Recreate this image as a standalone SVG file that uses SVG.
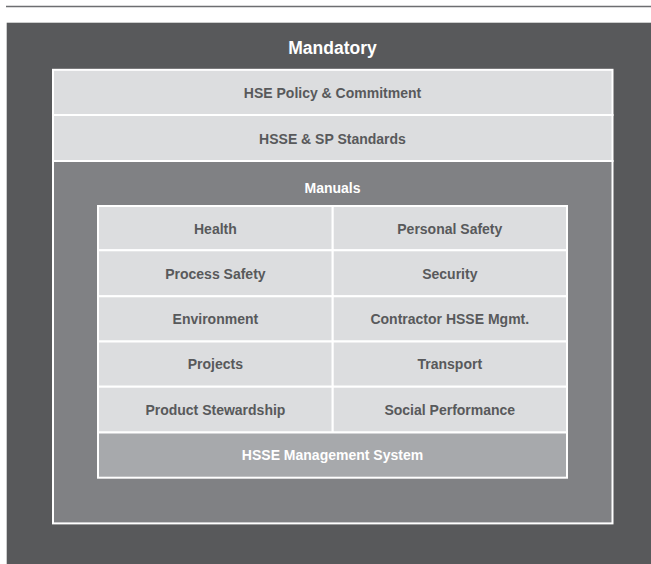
<svg xmlns="http://www.w3.org/2000/svg" width="651" height="564" viewBox="0 0 651 564">
<style>
  text { font-family: "Liberation Sans", Arial, sans-serif; font-weight: bold; text-anchor: middle; }
  .lbl { font-size: 14px; fill: #58595b; }
  .wlbl { font-size: 14px; fill: #ffffff; }
  .title { font-size: 17.5px; fill: #ffffff; }
  .cell { fill: #dcdddf; stroke: #ffffff; stroke-width: 2; }
</style>
<rect x="0" y="0" width="651" height="564" fill="#ffffff"/>
<line x1="6" y1="6.5" x2="651" y2="6.5" stroke="#6d6e71" stroke-width="1.6"/>
<g id="mandatory">
  <rect x="6.7" y="22.7" width="645" height="542" fill="#58595b"/>
  <text class="title" x="332.5" y="54">Mandatory</text>
</g>
<g id="hse-policy">
  <rect class="cell" x="53" y="69.8" width="559.5" height="45.2"/>
  <text class="lbl" x="332.5" y="98">HSE Policy &amp; Commitment</text>
</g>
<g id="hsse-sp-standards">
  <rect class="cell" x="53" y="115" width="559.5" height="46"/>
  <text class="lbl" x="332.5" y="144">HSSE &amp; SP Standards</text>
</g>
<g id="manuals">
  <rect x="53" y="161" width="559.5" height="362.4" fill="#808184" stroke="#ffffff" stroke-width="2"/>
  <text class="wlbl" x="332.5" y="193">Manuals</text>
</g>
<g id="health">
  <rect class="cell" x="98" y="206" width="234.7" height="44.3"/>
  <text class="lbl" x="215.4" y="233.5">Health</text>
</g>
<g id="personal-safety">
  <rect class="cell" x="332.7" y="206" width="234.3" height="44.3"/>
  <text class="lbl" x="449.8" y="233.5">Personal Safety</text>
</g>
<g id="process-safety">
  <rect class="cell" x="98" y="250.3" width="234.7" height="46"/>
  <text class="lbl" x="215.4" y="278.5">Process Safety</text>
</g>
<g id="security">
  <rect class="cell" x="332.7" y="250.3" width="234.3" height="46"/>
  <text class="lbl" x="449.8" y="278.5">Security</text>
</g>
<g id="environment">
  <rect class="cell" x="98" y="296.3" width="234.7" height="45.2"/>
  <text class="lbl" x="215.4" y="324">Environment</text>
</g>
<g id="contractor-hsse">
  <rect class="cell" x="332.7" y="296.3" width="234.3" height="45.2"/>
  <text class="lbl" x="449.8" y="324">Contractor HSSE Mgmt.</text>
</g>
<g id="projects">
  <rect class="cell" x="98" y="341.5" width="234.7" height="45.2"/>
  <text class="lbl" x="215.4" y="369.3">Projects</text>
</g>
<g id="transport">
  <rect class="cell" x="332.7" y="341.5" width="234.3" height="45.2"/>
  <text class="lbl" x="449.8" y="369.3">Transport</text>
</g>
<g id="product-stewardship">
  <rect class="cell" x="98" y="386.7" width="234.7" height="45.8"/>
  <text class="lbl" x="215.4" y="414.5">Product Stewardship</text>
</g>
<g id="social-performance">
  <rect class="cell" x="332.7" y="386.7" width="234.3" height="45.8"/>
  <text class="lbl" x="449.8" y="414.5">Social Performance</text>
</g>
<g id="hsse-management-system">
  <rect x="98" y="432.5" width="469" height="45.2" fill="#a7a9ac" stroke="#ffffff" stroke-width="2"/>
  <text class="wlbl" x="332.5" y="460">HSSE Management System</text>
</g>
<g id="connectors"></g>
</svg>
